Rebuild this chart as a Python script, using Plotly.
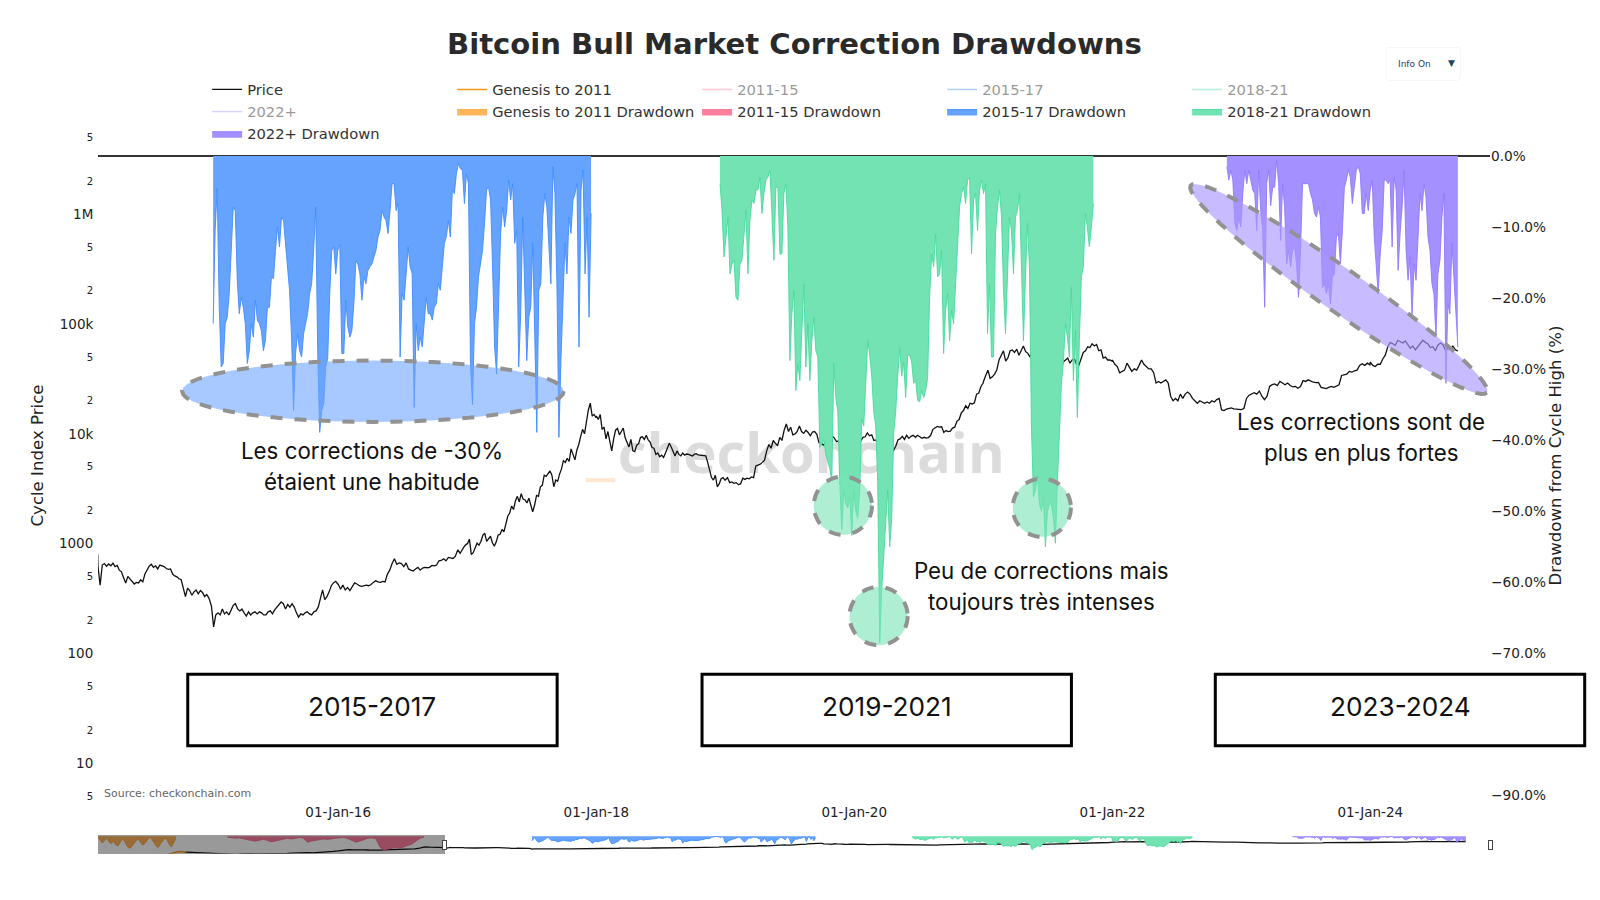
import numpy as np
import pandas as pd
import plotly.graph_objects as go

TITLE = "Bitcoin Bull Market Correction Drawdowns"

price_2011_14 = [20, 17, 14, 13, 9, 7, 5, 4.5, 3, 2.8, 3.5, 4.5, 6, 5.5, 5, 5, 5, 5, 5.2, 6.5, 7, 9, 11, 10.5, 12, 11,
                 13, 14, 20, 33, 48, 90, 130, 100, 125, 110, 95, 75, 90, 100, 115, 130, 125, 140, 180, 210, 400, 1000, 800, 750, 850, 800]
genesis_price = [0.07, 0.06, 0.065, 0.1, 0.25, 0.3, 0.22, 0.3, 0.3, 0.4, 0.9, 0.95, 0.9, 0.75, 0.85, 1.0, 3, 8, 20, 30, 17]
price_2014 = [620, 420, 640, 660, 625, 655, 630, 665, 620, 635, 575, 555, 490, 440, 505, 480, 455, 430, 445, 440, 470, 450, 530, 580, 625, 650, 610, 630, 590, 640, 630, 620, 595, 585, 590, 530, 510, 500, 480, 470, 395, 330, 395, 375, 340, 365, 380, 350, 375, 360, 330, 345, 320]
price_2015 = [315, 270, 175, 225, 235, 225, 255, 230, 240, 225, 250, 275, 285, 255, 245, 255, 235, 220, 240, 225, 235, 240, 230, 240, 235, 225, 225, 240, 245, 230, 250, 265, 275, 295, 285, 255, 280, 265, 285, 265, 235, 215, 230, 225, 235, 240, 230, 225, 240, 245, 265, 315, 380, 310, 330, 365, 415, 440, 455, 430]
price_2016 = [430, 385, 420, 380, 400, 375, 405, 440, 430, 415, 410, 415, 420, 415, 425, 445, 460, 450, 445, 455, 450, 530, 575, 660, 730, 650, 670, 660, 620, 670, 590, 575, 565, 590, 610, 575, 600, 610, 605, 610, 635, 630, 640, 700, 705, 730, 700, 750, 740, 735, 770, 880, 820, 900, 960, 1000]
price_2017 = [1000, 1100, 800, 830, 920, 1010, 970, 1050, 1190, 1250, 1050, 1120, 1170, 1020, 950, 1040, 1200, 1220, 1350, 1280, 1550, 1780, 1900, 2200, 2050, 2450, 2700, 2400, 2850, 2550, 2500, 2350, 2600, 2300, 1950, 2250, 2750, 2700, 3300, 3400, 4200, 4100, 4350, 4600, 4200, 3300, 3800, 3700, 4300, 4800, 5700, 5500, 6000, 5600, 7300, 6500, 5800, 7100, 8000, 9500, 11000, 10000, 13500, 16500, 19000, 14500, 15000, 14000]
price_2018 = [14500, 13500, 15000, 11000, 11500, 9000, 10500, 8400, 7000, 9000, 10800, 11200, 9800, 10500, 11300, 9200, 8400, 7600, 8900, 7000, 6900, 7900, 8100, 9300, 9400, 8900, 9700, 8800, 8400, 7500, 7400, 6500, 6700, 6200, 6400, 6100, 6700, 7400, 8200, 7600, 7000, 6300, 7000, 6500, 6300, 6700, 6400, 6550, 6500, 6400, 6300, 6500, 6600, 6450, 6400, 6450, 6350, 6300, 5500, 4600, 4000, 3800, 4200, 3300, 3500, 3900, 4000, 3800]
price_2019 = [3800, 4000, 3600, 3650, 3550, 3600, 3450, 3500, 3950, 3850, 3950, 3900, 4050, 4000, 5100, 5200, 5300, 5500, 5750, 7000, 8000, 7400, 8700, 8200, 7800, 9300, 8700, 10800, 12300, 10500, 11500, 9800, 10000, 10500, 11800, 10500, 10100, 10800, 10300, 9600, 10400, 10500, 9900, 8300, 8200, 7900, 8300, 7400, 9300, 9500, 9200, 8500, 8600, 7400, 7600, 7400, 7300, 7100, 7200, 7300]
price_2020 = [7200, 8000, 8700, 8600, 9300, 9400, 10200, 9600, 9800, 8700, 8800, 7900, 5000, 5300, 6200, 6600, 6800, 6900, 7100, 7700, 8800, 9000, 9500, 8900, 9700, 9100, 9500, 9700, 9300, 9700, 9400, 9100, 9300, 9150, 9250, 9700, 11000, 11300, 11700, 11500, 11600, 10300, 10700, 10500, 10600, 11300, 11500, 13000, 13500, 15500, 16300, 18000, 17000, 19000, 18700, 19200, 23000, 23500, 27000, 29000]
price_2021 = [30000, 34000, 38000, 32000, 33000, 35000, 38000, 47000, 52000, 57000, 46000, 49000, 57000, 58000, 55000, 59000, 52000, 58000, 63000, 56000, 54000, 50000, 58000, 57000, 49000, 37000, 39000, 35000, 37000, 33000, 36000, 32000, 34000, 31000, 39000, 40000, 45000, 47000, 49000, 44000, 47000, 48000, 43000, 42000, 48000, 55000, 57000, 62000, 61000, 66000, 63000, 65000, 57000, 58000, 49000, 50000, 47000, 47000, 46000]
price_2022 = [47000, 43000, 41000, 36000, 37000, 38000, 44000, 40000, 37000, 39000, 38000, 42000, 47000, 43000, 41000, 39000, 39000, 36000, 29000, 30000, 29000, 30000, 31000, 29000, 22000, 20000, 21000, 20000, 23000, 21000, 23000, 24000, 23000, 21000, 20000, 19000, 20000, 19500, 19000, 19500, 19000, 20000, 19500, 20500, 21000, 16500, 16300, 16800, 17000, 17200, 16900, 16800, 16600, 16500]
price_2023 = [16600, 17000, 21000, 22500, 23000, 23700, 23000, 24500, 22000, 20500, 22000, 27000, 28000, 28500, 27500, 30000, 29000, 28000, 29000, 27500, 26800, 27000, 26000, 27000, 30500, 30000, 31000, 30000, 29500, 29200, 29400, 26500, 26000, 25800, 26500, 27000, 26500, 27500, 28000, 34000, 34500, 35000, 37000, 36500, 37500, 38000, 42000, 43500, 42000, 44000, 42500]
price_2024 = [45000, 42000, 41000, 43000, 43000, 48000, 52000, 62000, 68000, 66000, 64000, 71000, 69000, 67000, 70000, 64000, 60000, 63000, 58000, 62000, 67000, 71000, 68000, 66000, 61000, 62000, 57000, 64000, 67000, 65000, 58000, 60000, 59000, 63000, 58000, 57000]

dd_genesis = [-5, -20, -35, -22, -8, -30, -38, -25, -45, -50, -30, -12, -28, -50, -62, -55, -40, -25, -12, -30, -45, -38, -20, -6, -12, -30, -48, -58, -40, -22, -8, -18, -42, -55, -30, -10]
dd_2011_15 = [-4, -6, -10, -8, -14, -18, -22, -25, -20, -15, -22, -28, -24, -18, -12, -10, -14, -8, -6, -10, -30, -24, -20, -18, -14, -16, -12, -10, -8, -6, -12, -20, -30, -25, -18, -10, -8, -12, -55, -70, -65, -60, -58, -62, -55, -50, -40, -25, -10, -4]

dd_2015_17 = [-23.6, -10.5, -4.6, -20.8, -29.7, -29.2, -23.6, -22.7, -19.4, -13.3, -7.2, -7.7, -17.5, -22.2, -19.9, -21.3, -23.6, -29.2, -27.4, -23.6, -25.5, -20.3, -23.1, -23.6, -24.6, -27.4, -26, -21.3, -21.3, -17, -17.3, -13.3, -10, -12.8, -8.6, -9.1, -12.3, -16.6, -18.9, -25.5, -35.8, -27.8, -25, -27.4, -28.3, -25, -23.6, -22.2, -19.4, -18, -13.3, -7.2, -27.4, -38.9, -35.8, -34.9, -29.7, -28.5, -19.4, -13.3, -12.8, -16.6, -13.3, -12.5, -27.8, -27.8, -20.3, -24.1, -25.5, -24.6, -20.8, -14.7, -15.2, -16.6, -20.3, -17, -18, -16.1, -15.6, -15.2, -14.2, -13.3, -11.4, -10.5, -7.7, -8.6, -9.1, -10.9, -7.7, -3.9, -3.9, -7.7, -6.7, -28.3, -19.4, -20.3,
             -16.6, -12.8, -15.6, -16.6, -35.4, -23.6, -27.4, -25.5, -26.9, -23.1, -19.9, -22.2, -22.2, -23.1, -21.3, -20.8, -18, -18.9, -16.1, -12.3, -11.4, -9.1, -11.4, -4.8, -5.3, -2.5, -1.1, -1.8, -2, -6.7, -2.5, -3.9, -29.2, -35, -23.6, -21.3, -17, -15.2, -13.3, -9.5, -4.8, -4.4, -6.2, -15.6, -26.9, -30.7, -20.3, -10.9, -7.2, -10, -7.7, -3.4, -6.2, -3.9, -12.3, -10.5, -29.7, -22.2, -8.6, -18.9, -28.8, -22.7, -21.3, -12.3, -24.6, -38.9, -18.9, -18, -8.6, -5.3, -7.2, -11.9, -18, -1.5, -5.3, -18, -39.6, -28.8, -20.3, -12.3, -16.6, -8.6, -10.9, -6.2, -5.3, -3.9, -26.9, -4.8, -2, -16.6, -8.6, -22.7, -8.1]
dd_2018_21 = [-3.9, -7.7, -14.2, -11.4, -8.6, -16.6, -15.2, -14.7, -19.9, -20.3, -15.2, -14.7, -10.5, -7.7, -16.6, -9.1, -6.2, -6.7, -4.8, -4.8, -3, -8.1, -5.3, -3.4, -3, -2, -8.1, -14.7, -4.4, -4.4, -13.8, -13.8, -5.3, -3.9, -10, -28.8, -22.2, -18.9, -33, -29.2, -31.6, -25.5, -18, -29.7, -23.6, -31.6, -26, -22.7, -27.4, -28.3,
             -41, -40.5, -40, -42, -43, -44, -45.7, -29.2, -34, -36, -46, -52.6, -47, -49, -49.5, -48, -53.4, -47, -50, -51, -47, -37, -38, -31, -26, -28, -31, -36, -38, -46, -68.5, -61, -56, -52, -47, -55, -51, -39, -36, -31, -27, -31, -29, -34, -28, -28, -29,
             -32, -31.6, -34.4, -34.6, -33, -34, -33, -31.2, -19.9, -13.8, -15.6, -11, -17, -16.6, -13.3, -27.8, -21.7, -19.4, -26, -21.7, -23.6, -18, -13.3, -7.2, -5.3, -4.4, -6.7, -3.4, -3, -13.8, -6.2, -5.3, -10.5, -4.8, -3.4, -5.3, -3.9, -25, -18, -28.3, -28.3, -10.9, -7.2, -4.8, -8.6, -18.9, -25, -15.6, -8.6, -10.5, -16.6, -8.6, -7.7, -5.3, -17.5, -26, -17, -9.5, -15.6,
             -38, -48, -47, -45, -49, -50, -48, -55, -50, -49, -49, -51, -54.5, -46, -40, -32, -29, -23.6, -25.5, -28.3, -18.5, -31.6, -24.6, -36.8, -26, -17, -15.6, -8.1, -10, -12.8, -10, -6.7]
dd_2022 = [-1.5, -3.4, -2, -3.4, -9.5, -10.5, -8.6, -10, -5.3, -2, -3.9, -2, -3.4, -4.8, -5.3, -10.5, -2, -7.7, -10.5, -21.3, -3.9, -2, -7, -4.4, -4.4, -0.6, -3.9, -11.9, -3.9, -7.2, -15.2, -13.3, -15.6, -13.3, -12.8, -15.2, -19.9, -13.3, -3.9, -3.9, -3.9, -3.9, -5.3, -6.2, -8.1, -8.6, -7.2, -8.6, -18.5, -18, -19.4, -18, -20.8, -17, -16.6, -11.4, -10.9, -15.2, -10.5, -4.4, -3.4, -2, -3, -6.7, -4.4, -2, -1.5, -2.5, -8.1, -8.1, -5.3, -7.7, -4.8, -3.4, -11.4, -15.2, -19.4, -13.8, -10.5, -3.4, -3.4, -3.9, -3.4, -12.8, -3, -4.8, -16.1, -10.9, -7.2, -2, -13.3, -17.5, -14.2, -22.7, -15.2, -17.5, -10, -5.3, -7.7, -3.9, -5.8, -11.4, -13.3, -18, -19.4, -25.5, -16.6, -14.7, -8.6, -5.3, -32, -20.8, -22.2, -12.3, -17, -21.7, -26.9]


def spaced(start, end, values):
    return pd.date_range(start, end, periods=len(values))


price_x = []
price_y = []
for s, e, v in [("2011-06-15", "2014-02-19", price_2011_14), ("2014-02-20", "2014-12-31", price_2014),
                ("2015-01-01", "2015-12-31", price_2015), ("2016-01-01", "2016-12-31", price_2016),
                ("2017-01-01", "2017-12-31", price_2017), ("2018-01-01", "2018-12-31", price_2018),
                ("2019-01-01", "2019-12-31", price_2019), ("2020-01-01", "2020-12-31", price_2020),
                ("2021-01-01", "2021-12-31", price_2021), ("2022-01-01", "2022-12-31", price_2022),
                ("2023-01-01", "2023-12-31", price_2023), ("2024-01-01", "2024-09-05", price_2024)]:
    price_x.extend(spaced(s, e, v))
    price_y.extend(v)

W, H = 1600, 900
L, R, T, B = 98, 110, 109, 47
PW = W - L - R
PH = 692
S = 1600 / 1568


def fx(x):
    return (x * S - L) / PW


def fy(y):
    return 1 - (y * S - T) / PH


fig = go.Figure()
fig.add_trace(go.Scatter(x=price_x, y=price_y, name="Price", mode="lines", line=dict(color="#111111", width=1.3), yaxis="y"))
fig.add_trace(go.Scatter(x=spaced("2010-07-20", "2011-06-15", genesis_price), y=genesis_price, name="Genesis to 2011",
                         mode="lines", line=dict(color="#F7931A", width=1.5)))
fig.add_trace(go.Scatter(x=spaced("2011-06-15", "2014-02-19", price_2011_14), y=price_2011_14, name="2011-15", mode="lines",
                         line=dict(color="#FF8FA8", width=1.5), visible="legendonly"))
fig.add_trace(go.Scatter(x=spaced("2015-01-01", "2015-12-31", price_2015), y=price_2015, name="2015-17", mode="lines",
                         line=dict(color="#66A3FF", width=1.5), visible="legendonly"))
fig.add_trace(go.Scatter(x=spaced("2018-01-01", "2018-12-31", price_2018), y=price_2018, name="2018-21", mode="lines",
                         line=dict(color="#73E3B3", width=1.5), visible="legendonly"))
fig.add_trace(go.Scatter(x=spaced("2023-01-01", "2023-12-31", price_2023), y=price_2023, name="2022+", mode="lines",
                         line=dict(color="#B7A3FF", width=1.5), visible="legendonly"))

for name, s, e, vals, fill, line in [
    ("Genesis to 2011 Drawdown", "2010-07-20", "2011-05-10", dd_genesis, "#FFB55C", "#F7A640"),
    ("2011-15 Drawdown", "2011-11-20", "2013-12-01", dd_2011_15, "#FF7F9F", "#F76F92"),
    ("2015-17 Drawdown", "2015-01-12", "2017-12-17", dd_2015_17, "#66A3FF", "#3F8CFF"),
    ("2018-21 Drawdown", "2018-12-17", "2021-11-08", dd_2018_21, "#73E3B3", "#45DA9C"),
    ("2022+ Drawdown", "2022-11-21", "2024-09-05", dd_2022, "#A590FF", "#8F78FF"),
]:
    fig.add_trace(go.Scatter(x=spaced(s, e, vals), y=vals, name=name, mode="lines", yaxis="y2", fill="tozeroy",
                             fillcolor=fill, line=dict(color=line, width=0.9)))


def ellipse(cx, cy, a, b, deg):
    t = np.radians(np.arange(0, 360, 6))
    r = np.radians(deg)
    px = cx + a * np.cos(t) * np.cos(r) - b * np.sin(t) * np.sin(r)
    py = cy + a * np.cos(t) * np.sin(r) + b * np.sin(t) * np.cos(r)
    return "M " + " L ".join(f"{fx(u):.5f},{fy(v):.5f}" for u, v in zip(px, py)) + " Z"


DASH = dict(color="#929292", width=4, dash="dash")
shapes = [
    dict(type="rect", xref="paper", yref="paper", x0=fx(605), x1=fx(985), y0=fy(415), y1=fy(475), layer="below",
         line=dict(width=0), fillcolor="rgba(0,0,0,0)",
         label=dict(text="<b>checkonchain</b>", textposition="middle center",
                    font=dict(family="Open Sans", size=56, color="#DCDCDC"))),
    dict(type="rect", xref="paper", yref="paper", x0=fx(574), x1=fx(603), y0=fy(468), y1=fy(472), layer="below",
         line=dict(width=0), fillcolor="#FFE8CF"),
    dict(type="path", path=ellipse(365.5, 383, 187, 30, 0), xref="paper", yref="paper", line=DASH, fillcolor="rgba(110,165,255,0.6)", layer="above"),
    dict(type="path", path=ellipse(826, 495, 28.5, 28.5, 0), xref="paper", yref="paper", line=DASH, fillcolor="rgba(120,228,182,0.6)", layer="above"),
    dict(type="path", path=ellipse(861, 603, 28.5, 28.5, 0), xref="paper", yref="paper", line=DASH, fillcolor="rgba(120,228,182,0.6)", layer="above"),
    dict(type="path", path=ellipse(1021, 497, 28.5, 28.5, 0), xref="paper", yref="paper", line=DASH, fillcolor="rgba(120,228,182,0.6)", layer="above"),
    dict(type="path", path=ellipse(1312, 283, 177, 21, 34.9), xref="paper", yref="paper", line=DASH, fillcolor="rgba(170,150,255,0.65)", layer="above"),
]
for x0, x1 in [(184, 546), (688, 1050), (1191, 1553)]:
    shapes.append(dict(type="rect", xref="paper", yref="paper", x0=fx(x0), x1=fx(x1), y0=fy(660), y1=fy(730),
                       fillcolor="white", line=dict(color="black", width=3), layer="above"))

TEXT_FONT = dict(family="Inter", size=22.3, color="#111111")
annots = []
for txt, x, y in [("Les corrections de -30%", 365, 441), ("étaient une habitude", 365, 471),
                  ("Peu de corrections mais", 1021, 558), ("toujours très intenses", 1021, 589),
                  ("Les corrections sont de", 1334, 413), ("plus en plus fortes", 1334, 443)]:
    annots.append(dict(text=txt, x=fx(x), y=fy(y), xref="paper", yref="paper", xanchor="center", yanchor="middle",
                       showarrow=False, font=TEXT_FONT))
for txt, x in [("2015-2017", 365), ("2019-2021", 869), ("2023-2024", 1372)]:
    annots.append(dict(text=txt, x=fx(x), y=fy(692), xref="paper", yref="paper", xanchor="center", yanchor="middle",
                       showarrow=False, font=dict(family="Inter", size=26.2, color="#111111")))
annots.append(dict(text="Source: checkonchain.com", x=fx(100), y=fy(777), xanchor="left", yanchor="middle", xref="paper",
                   yref="paper", showarrow=False, font=dict(family="DejaVu Sans", size=11, color="#666666")))

fig.update_layout(
    width=W, height=H, margin=dict(l=L, r=R, t=T, b=B, autoexpand=True),
    paper_bgcolor="white", plot_bgcolor="white",
    font=dict(family="DejaVu Sans", color="#222222"),
    title=dict(text=f"<b>{TITLE}</b>", x=0.4965, xanchor="center", y=0.951, yanchor="middle",
               font=dict(family="DejaVu Sans", size=29.1, color="#2A2A2A")),
    xaxis=dict(type="date", range=["2014-02-20", "2024-12-05"], tick0="2016-01-01", dtick="M24", tickformat="%d-%b-%y",
               showgrid=False, zeroline=False, showline=False, tickfont=dict(size=13.5, color="#222222"),
               rangeslider=dict(visible=True, thickness=0.025, range=["2010-07-20", "2024-12-05"], bgcolor="white",
                                borderwidth=0)),
    yaxis=dict(type="log", range=[0.650, 6.956], dtick="D2", showgrid=False, zeroline=False, showline=False,
               ticks="outside", ticklen=1, tickcolor="rgba(0,0,0,0)", tickfont=dict(size=13.5, color="#222222"),
               title=dict(text="Cycle Index Price", font=dict(size=16.6, color="#222222"), standoff=11)),
    yaxis2=dict(overlaying="y", side="right", range=[-90.9, 6.6], dtick=10, tickformat=".1f", ticksuffix="%",
                showgrid=False, showline=False, zeroline=True, zerolinecolor="#333333", zerolinewidth=2,
                tickfont=dict(size=13.7, color="#222222"),
                title=dict(text="Drawdown from Cycle High (%)", font=dict(size=16.6, color="#222222"), standoff=2)),
    legend=dict(orientation="h", x=fx(203), xanchor="left", y=fy(72), yanchor="top", traceorder="normal",
                entrywidth=200, entrywidthmode="pixels", font=dict(size=14.7, color="#333333"), bgcolor="rgba(0,0,0,0)",
                tracegroupgap=0),
    updatemenus=[dict(type="dropdown", direction="down", x=fx(1357), xanchor="left", y=fy(45), yanchor="top",
                      pad=dict(l=0, r=0, t=0, b=0), showactive=True, bgcolor="white", bordercolor="#F7F7F7", borderwidth=1,
                      font=dict(size=9, color="#2A3F5F"),
                      buttons=[dict(label="Info On", method="skip", args=[None]),
                               dict(label="Info Off", method="skip", args=[None])])],
    shapes=shapes, annotations=annots, showlegend=True,
)
fig.write_html("out.html", post_script="document.body.style.margin='0';", config=dict(displayModeBar=False))
